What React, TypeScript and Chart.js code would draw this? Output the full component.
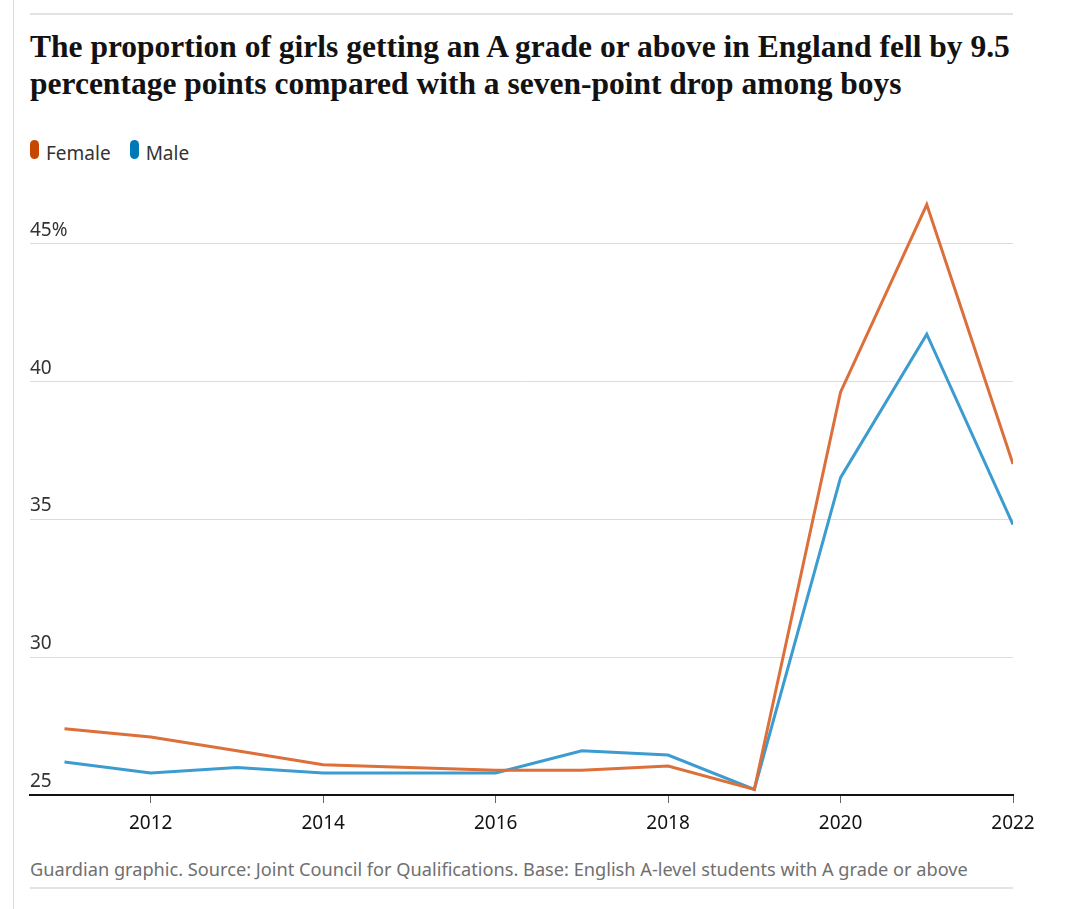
import React, { useEffect, useRef } from "react";
import { Chart, registerables } from "chart.js";

Chart.register(...registerables);

const years = [2011, 2012, 2013, 2014, 2015, 2016, 2017, 2018, 2019, 2020, 2021, 2022];
const female = [27.4, 27.1, 26.6, 26.1, 26.0, 25.9, 25.9, 26.05, 25.2, 39.6, 46.4, 37.0];
const male = [26.2, 25.8, 26.0, 25.8, 25.8, 25.8, 26.6, 26.45, 25.2, 36.5, 41.7, 34.8];
const seriesNames = ["Female", "Male"];
const lineColors = ["#dc6f3a", "#3d9ccf"];
const legendColors = ["#c74600", "#0077b6"];
const xTicks = [2012, 2014, 2016, 2018, 2020, 2022];
const yTicks = [25, 30, 35, 40, 45];
const yTickLabels = ["25", "30", "35", "40", "45%"];

const TITLE =
  "The proportion of girls getting an A grade or above in England fell by 9.5 percentage points compared with a seven-point drop among boys";
const FOOTER =
  "Guardian graphic. Source: Joint Council for Qualifications. Base: English A-level students with A grade or above";

const SANS = "'Noto Sans', 'Open Sans', sans-serif";

export default function App() {
  const ref = useRef<HTMLCanvasElement | null>(null);

  useEffect(() => {
    if (!ref.current) return;
    const yLabelPlugin = {
      id: "yLabels",
      afterDraw(chart: any) {
        const ctx = chart.ctx;
        const y = chart.scales.y;
        ctx.save();
        ctx.font = `19px ${SANS}`;
        ctx.fillStyle = "#333333";
        ctx.textAlign = "left";
        ctx.textBaseline = "middle";
        yTicks.forEach((v, i) => {
          ctx.fillText(yTickLabels[i], chart.chartArea.left, y.getPixelForValue(v) - 13);
        });
        ctx.restore();
      },
    };
    const chart = new Chart(ref.current, {
      type: "line",
      data: {
        datasets: [
          {
            label: seriesNames[0],
            data: years.map((yr, i) => ({ x: yr, y: female[i] })),
            borderColor: lineColors[0],
            backgroundColor: lineColors[0],
            borderWidth: 3,
            pointRadius: 0,
            tension: 0,
          },
          {
            label: seriesNames[1],
            data: years.map((yr, i) => ({ x: yr, y: male[i] })),
            borderColor: lineColors[1],
            backgroundColor: lineColors[1],
            borderWidth: 3,
            pointRadius: 0,
            tension: 0,
          },
        ],
      },
      options: {
        animation: false,
        responsive: false,
        maintainAspectRatio: false,
        layout: { padding: { left: 30, right: 67, top: 8, bottom: 0 } },
        plugins: {
          legend: { display: false },
          tooltip: { enabled: false },
        },
        scales: {
          x: {
            type: "linear",
            min: 2010.6,
            max: 2022,
            afterBuildTicks: (s: any) => {
              s.ticks = xTicks.map((v) => ({ value: v }));
            },
            afterFit: (s: any) => {
              s.height = 50;
            },
            grid: {
              drawOnChartArea: false,
              drawTicks: true,
              tickLength: 8,
              color: "#666666",
              lineWidth: 1,
            },
            border: { display: true, color: "#121212", width: 2 },
            ticks: {
              color: "#121212",
              font: { family: SANS, size: 19 },
              padding: 9,
              maxRotation: 0,
              callback: (v: any) => String(v),
            },
          },
          y: {
            type: "linear",
            min: 25,
            max: 47,
            afterBuildTicks: (s: any) => {
              s.ticks = yTicks.map((v) => ({ value: v }));
            },
            afterFit: (s: any) => {
              s.width = 0;
            },
            grid: {
              drawTicks: false,
              color: "#dcdcdc",
              lineWidth: 1,
            },
            border: { display: false },
            ticks: { display: false },
          },
        },
      },
      plugins: [yLabelPlugin],
    });
    return () => chart.destroy();
  }, []);

  return (
    <div
      style={{
        position: "absolute",
        left: 0,
        top: 0,
        width: 1080,
        height: 909,
        background: "#ffffff",
        overflow: "hidden",
      }}
    >
      <div style={{ position: "absolute", left: 13, top: 0, width: 1, height: 909, background: "#dcdcdc" }} />
      <div style={{ position: "absolute", left: 30, top: 13, width: 983, height: 2, background: "#e3e3e3" }} />
      <div
        style={{
          position: "absolute",
          left: 30,
          top: 28,
          width: 1010,
          fontFamily: "'Liberation Serif', serif",
          fontWeight: 700,
          fontSize: 31.5,
          lineHeight: "37px",
          color: "#121212",
        }}
      >
        {TITLE}
      </div>
      <div
        style={{
          position: "absolute",
          left: 30,
          top: 140,
          display: "flex",
          alignItems: "flex-start",
          fontFamily: SANS,
          fontSize: 19,
          color: "#333333",
          height: 19,
        }}
      >
        {seriesNames.map((n, i) => (
          <div key={n} style={{ display: "flex", alignItems: "flex-start", marginRight: 19 }}>
            <span
              style={{
                display: "inline-block",
                width: 9,
                height: 19,
                borderRadius: 4.5,
                background: legendColors[i],
                marginRight: 7,
              }}
            />
            <span style={{ lineHeight: "26px", marginTop: 0 }}>{n}</span>
          </div>
        ))}
      </div>
      <canvas
        ref={ref}
        width={1080}
        height={665}
        style={{ position: "absolute", left: 0, top: 180, width: 1080, height: 665 }}
      />
      <div
        style={{
          position: "absolute",
          left: 30,
          top: 857,
          fontFamily: SANS,
          fontSize: 18.2,
          lineHeight: "24px",
          color: "#707070",
          whiteSpace: "nowrap",
        }}
      >
        {FOOTER}
      </div>
      <div style={{ position: "absolute", left: 30, top: 887, width: 983, height: 2, background: "#e3e3e3" }} />
    </div>
  );
}
